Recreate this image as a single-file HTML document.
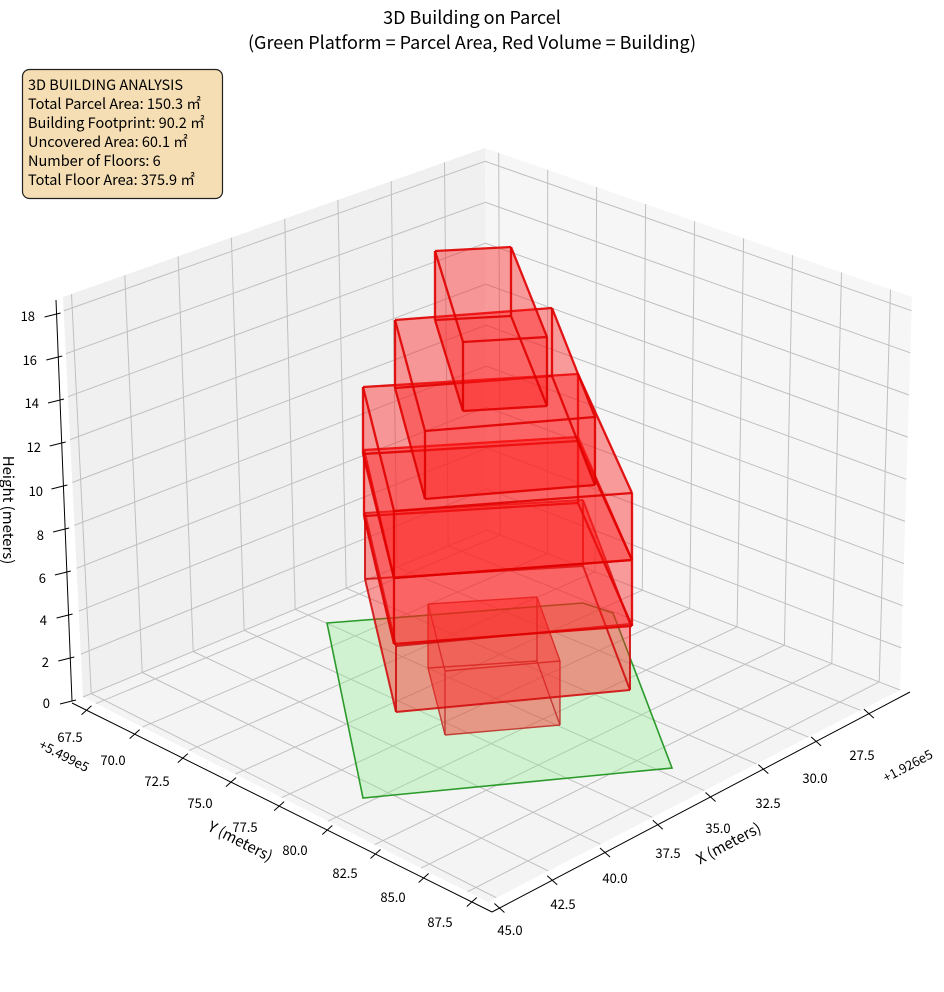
<!DOCTYPE html>
<html><head><meta charset="utf-8"><style>
html,body{margin:0;padding:0;background:#fff;}
svg{display:block;font-family:"Noto Sans CJK JP","Liberation Sans",sans-serif;}
</style></head><body>
<svg id="s" width="944" height="992" viewBox="0 0 944 992" xmlns="http://www.w3.org/2000/svg">
<g id="panes"></g>
<g id="data"></g>
<g id="axes"></g>
<text x="472" y="24" font-size="18" text-anchor="middle" fill="#000">3D Building on Parcel</text>
<text x="472" y="49" font-size="18" text-anchor="middle" fill="#000">(Green Platform = Parcel Area, Red Volume = Building)</text>
<rect x="22.5" y="69.5" width="200" height="129" rx="7" fill="#f5deb3" stroke="#222" stroke-width="1.2"/>
<g font-size="14.5" fill="#000">
<text x="28" y="90">3D BUILDING ANALYSIS</text>
<text x="28" y="109">Total Parcel Area: 150.3 ㎡</text>
<text x="28" y="128">Building Footprint: 90.2 ㎡</text>
<text x="28" y="147">Uncovered Area: 60.1 ㎡</text>
<text x="28" y="166">Number of Floors: 6</text>
<text x="28" y="185">Total Floor Area: 375.9 ㎡</text>
</g>
<g font-size="13" fill="#000" text-anchor="middle">
<text x="862" y="760">27.5</text><text x="815" y="783">30.0</text><text x="768" y="808">32.5</text><text x="718" y="833">35.0</text>
<text x="668" y="858">37.5</text><text x="615" y="883">40.0</text><text x="563" y="909">42.5</text><text x="510" y="935">45.0</text>
<text x="70" y="742">67.5</text><text x="113" y="765">70.0</text><text x="157" y="786">72.5</text><text x="200" y="808">75.0</text>
<text x="245" y="832">77.5</text><text x="295" y="855">80.0</text><text x="345" y="878">82.5</text><text x="393" y="902">85.0</text><text x="440" y="927">87.5</text>
</g>
<g font-size="13" fill="#000" text-anchor="end">
<text x="50" y="708">0</text><text x="49" y="667">2</text><text x="47" y="625">4</text><text x="46" y="583">6</text><text x="44" y="540">8</text>
<text x="43" y="496">10</text><text x="41" y="452">12</text><text x="39" y="408">14</text><text x="37" y="365">16</text><text x="35" y="321">18</text>
</g>
<text transform="translate(62,760) rotate(27)" font-size="13" text-anchor="middle">+5.499e5</text>
<text transform="translate(910,770) rotate(-28)" font-size="13" text-anchor="middle">+1.926e5</text>
<text transform="translate(238,846) rotate(27)" font-size="15" text-anchor="middle">Y (meters)</text>
<text transform="translate(731,848) rotate(-28)" font-size="15" text-anchor="middle">X (meters)</text>
<text transform="translate(3,510) rotate(90)" font-size="15" text-anchor="middle">Height (meters)</text>
</svg>
<script>
(function(){
var NS="http://www.w3.org/2000/svg";
function el(p,t,a){var e=document.createElementNS(NS,t);for(var k in a)e.setAttribute(k,a[k]);p.appendChild(e);return e;}
var panes=document.getElementById('panes'),data=document.getElementById('data'),axes=document.getElementById('axes');
var front=[488,902],right=[900,690],left=[83,697],back=[487,530];
var lt=[63,297],bt=[485,148],rt=[912,297];
var xmin=25.6,xmax=45.4,ymin=66.8,ymax=88.6,zt=18.65;
function lerp(a,b,t){return [a[0]+(b[0]-a[0])*t,a[1]+(b[1]-a[1])*t];}
function bil(p00,p10,p01,p11,u,v){var a=lerp(p00,p10,u),b=lerp(p01,p11,u);return lerp(a,b,v);}
function floorP(x,y){return bil(front,right,left,back,(xmax-x)/(xmax-xmin),(ymax-y)/(ymax-ymin));}
function lwP(x,z){return bil(left,back,lt,bt,(xmax-x)/(xmax-xmin),z/zt);}
function rwP(y,z){return bil(back,right,bt,rt,(y-ymin)/(ymax-ymin),z/zt);}
function pts(a){return a.map(function(p){return p[0].toFixed(1)+","+p[1].toFixed(1);}).join(" ");}
el(panes,'polygon',{points:pts([left,back,bt,lt]),fill:'#f0f0f0'});
el(panes,'polygon',{points:pts([back,right,rt,bt]),fill:'#f6f6f6'});
el(panes,'polygon',{points:pts([front,right,back,left]),fill:'#f4f4f4'});
var g={stroke:'#c0c0c0','stroke-width':1,fill:'none'};
var xt=[27.5,30,32.5,35,37.5,40,42.5,45],yt=[67.5,70,72.5,75,77.5,80,82.5,85,87.5],zs=[0,2,4,6,8,10,12,14,16,18];
xt.forEach(function(x){var a=floorP(x,ymax),b=floorP(x,ymin),c=lwP(x,zt);el(panes,'polyline',Object.assign({points:pts([a,b,c])},g));});
yt.forEach(function(y){var a=floorP(xmax,y),b=floorP(xmin,y),c=rwP(y,zt);el(panes,'polyline',Object.assign({points:pts([a,b,c])},g));});
zs.forEach(function(z){var a=lwP(xmax,z),b=lwP(xmin,z),c=rwP(ymax,z);el(panes,'polyline',Object.assign({points:pts([a,b,c])},g));});
var ya=[72,703],yb=[492,912],xa=[492,912],xb=[910,692],za=[72,701],zb=[56,300];
el(axes,'line',{x1:ya[0],y1:ya[1],x2:yb[0],y2:yb[1],stroke:'#000','stroke-width':1});
el(axes,'line',{x1:xa[0],y1:xa[1],x2:xb[0],y2:xb[1],stroke:'#000','stroke-width':1});
el(axes,'line',{x1:za[0],y1:za[1],x2:zb[0],y2:zb[1],stroke:'#000','stroke-width':1});
yt.forEach(function(y){var p=lerp(ya,yb,(y-ymin)/(ymax-ymin));el(axes,'line',{x1:p[0]-4,y1:p[1]+5,x2:p[0]+6,y2:p[1]-4,stroke:'#000'});});
xt.forEach(function(x){var p=lerp(xa,xb,(xmax-x)/(xmax-xmin));el(axes,'line',{x1:p[0]+4,y1:p[1]+5,x2:p[0]-6,y2:p[1]-4,stroke:'#000'});});
zs.forEach(function(z){var p=lerp(za,zb,z/zt);el(axes,'line',{x1:p[0]-12,y1:p[1]+3,x2:p[0]+4,y2:p[1]-1,stroke:'#000'});});
el(data,'polygon',{points:'327,623 583,603 613,613 672,768 363,798',fill:'rgba(144,238,144,0.35)',stroke:'#2a9a2a','stroke-width':1.6});
var boxes=[
 [[[428,604],[537,597],[560,661],[445,671]],64,'#c0302a',1.4],
 [[[365,513],[583,500],[630,624],[396,646]],66,'#d01010',2],
 [[[364,450],[578,437],[632,560],[394,578]],66,'#e00000',2.3],
 [[[363,387],[578,374],[632,493],[394,511]],67,'#e00000',2.3],
 [[[395,320],[552,308],[595,417],[425,431]],68,'#e00000',2.3],
 [[[435,251],[511,247],[547,337],[463,342]],69,'#e00000',2.3]
];
boxes.forEach(function(b){
 var T=b[0],h=b[1],B=T.map(function(p){return [p[0],p[1]+h];});
 var faces=[[B[0],B[1],B[2],B[3]],[B[0],B[1],T[1],T[0]],[B[3],B[0],T[0],T[3]],[B[1],B[2],T[2],T[1]],[B[2],B[3],T[3],T[2]],[T[0],T[1],T[2],T[3]]];
 faces.forEach(function(f){el(data,'polygon',{points:pts(f),fill:'rgba(255,30,30,0.24)',stroke:'none'});});
 var E=[[T[0],T[1]],[T[1],T[2]],[T[2],T[3]],[T[3],T[0]],[B[0],B[1]],[B[1],B[2]],[B[2],B[3]],[B[3],B[0]],[T[0],B[0]],[T[1],B[1]],[T[2],B[2]],[T[3],B[3]]];
 E.forEach(function(e){el(data,'line',{x1:e[0][0],y1:e[0][1],x2:e[1][0],y2:e[1][1],stroke:b[2],'stroke-width':b[3],'stroke-opacity':0.9});});
});
})();
</script>
</body></html>
